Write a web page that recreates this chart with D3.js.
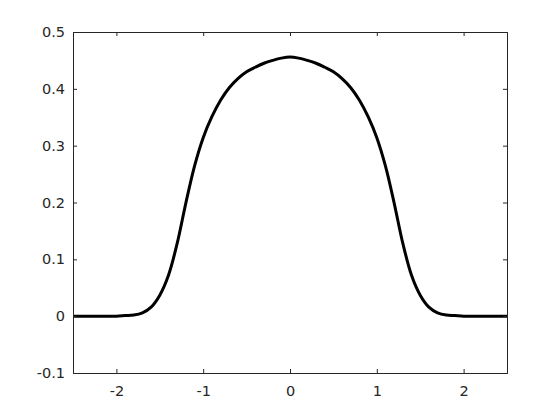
<!DOCTYPE html>
<html>
<head>
<meta charset="utf-8">
<script src="https://cdn.jsdelivr.net/npm/d3@7"></script>
<style>
  body { margin: 0; background: #fff; }
  svg text { font-family: "DejaVu Sans", sans-serif; font-size: 14.5px; fill: #262626; }
</style>
</head>
<body>
<div id="chart"></div>
<script>
// curve (symmetric about 0)
var xs = [-2.5,-2.4,-2.3,-2.2,-2.1,-2.0,-1.9,-1.8,-1.7,-1.6,-1.5,-1.4,-1.3,-1.2,-1.1,-1.0,-0.9,-0.8,-0.7,-0.6,-0.5,-0.4,-0.3,-0.2,-0.1,
          0,0.1,0.2,0.3,0.4,0.5,0.6,0.7,0.8,0.9,1.0,1.1,1.2,1.3,1.4,1.5,1.6,1.7,1.8,1.9,2.0,2.1,2.2,2.3,2.4,2.5]
var ys = [0,0,0,0,0,0,0.001,0.002,0.006,0.016,0.037,0.072,0.128,0.199,0.264,0.314,0.351,0.380,0.402,0.418,0.430,0.438,0.445,0.450,0.454,
          0.456,0.454,0.450,0.445,0.438,0.430,0.418,0.402,0.380,0.351,0.314,0.264,0.199,0.128,0.072,0.037,0.016,0.006,0.002,0.001,0,0,0,0,0,0]
var xTicks = [-2,-1,0,1,2]
var yTicks = [-0.1,0,0.1,0.2,0.3,0.4,0.5]

var width = 560, height = 420
var margin = {left: 73, right: 53, top: 32, bottom: 47}
var w = width - margin.left - margin.right
var h = height - margin.top - margin.bottom

var svg = d3.select('#chart').append('svg')
    .attr('width', width).attr('height', height)
var g = svg.append('g').attr('transform', 'translate(' + margin.left + ',' + margin.top + ')')

var x = d3.scaleLinear().domain([-2.5, 2.5]).range([0, w])
var y = d3.scaleLinear().domain([-0.1, 0.5]).range([h, 0])

var data = xs.map(function(d, i){ return {x: d, y: ys[i]} })

g.append('defs').append('clipPath').attr('id', 'clip')
  .append('rect').attr('width', w).attr('height', h)

g.append('path')
    .datum(data)
    .attr('clip-path', 'url(#clip)')
    .attr('fill', 'none')
    .attr('stroke', '#000')
    .attr('stroke-width', 3)
    .attr('stroke-linejoin', 'round')
    .attr('d', d3.line().x(function(d){ return x(d.x) }).y(function(d){ return y(d.y) }).curve(d3.curveCatmullRom.alpha(0.5)))

// axes, ticks pointing inward on all four sides
var fmt = function(d){ return String(+d.toFixed(1)) }

g.append('g').attr('transform', 'translate(0,' + h + ')')
    .call(d3.axisBottom(x).tickValues(xTicks).tickSize(-4).tickPadding(13).tickFormat(fmt))
g.append('g')
    .call(d3.axisTop(x).tickValues(xTicks).tickSize(-4).tickFormat(''))
g.append('g')
    .call(d3.axisLeft(y).tickValues(yTicks).tickSize(-4).tickPadding(8).tickFormat(fmt))
g.append('g').attr('transform', 'translate(' + w + ',0)')
    .call(d3.axisRight(y).tickValues(yTicks).tickSize(-4).tickFormat(''))

g.selectAll('.domain').attr('stroke', '#262626').attr('stroke-width', 1)
g.selectAll('.tick line').attr('stroke', '#262626')
g.selectAll('.tick text').style('font-size', '14.5px').attr('fill', '#262626')
</script>
</body>
</html>
